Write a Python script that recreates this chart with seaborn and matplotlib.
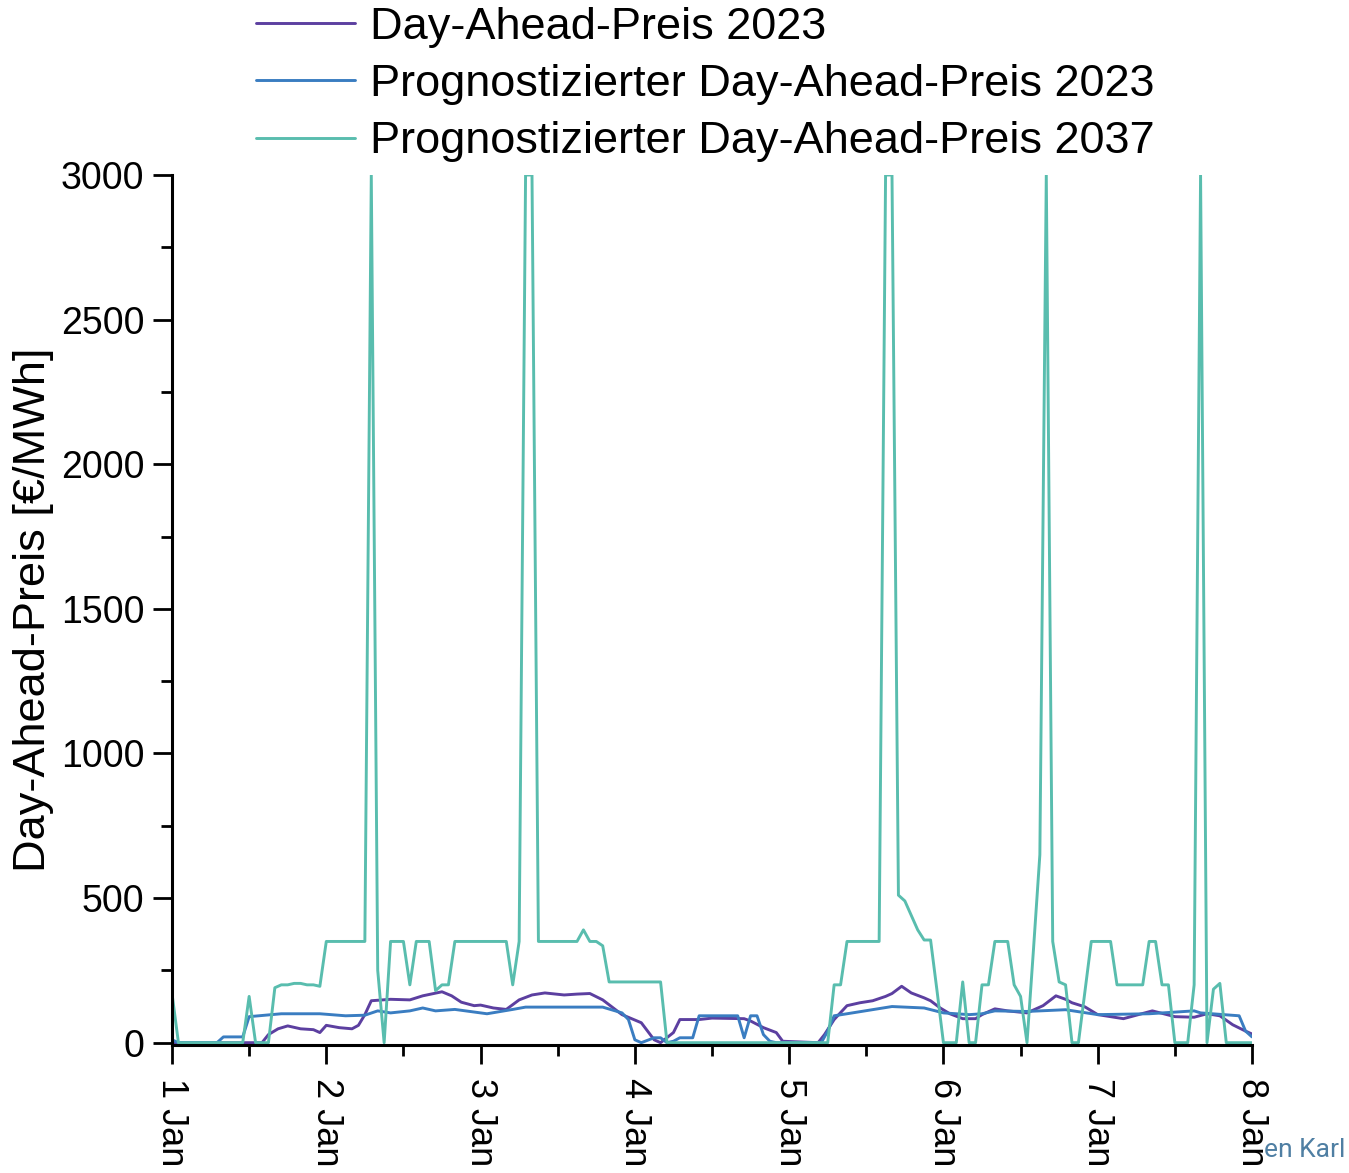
import numpy as np
import pandas as pd
import seaborn as sns
import matplotlib.pyplot as plt
import matplotlib.dates as mdates
from matplotlib.ticker import MultipleLocator


# Day-ahead price 2023 (hours since 1 Jan 00:00, EUR/MWh)
ist_2023_hours = [0, 14, 15, 16.5, 18, 20, 22, 23, 24, 26, 28, 29, 30, 31, 34, 37, 39, 42, 43.5, 45, 47, 48,
                  50, 52, 54, 56, 58, 61, 63, 65, 67, 70, 73, 75, 76, 78, 79, 82, 84, 89, 90, 92, 94, 95,
                  100.5, 101.5, 103, 105, 107, 109, 111, 112, 113.5, 115, 117, 118, 119.5, 121, 123, 125,
                  126, 128, 130, 133, 135.5, 137.5, 139, 140, 142, 144, 148, 150, 152.5, 156, 159, 161,
                  163, 165, 167, 168]
ist_2023_price = [0, 0, 28, 48, 58, 48, 45, 35, 60, 52, 48, 60, 97, 145, 150, 148, 162, 176, 162, 140, 128, 130,
                  120, 115, 148, 165, 172, 165, 168, 170, 148, 97, 69, 10, 0, 35, 80, 80, 85, 83, 75, 52, 35, 5,
                  0, 28, 80, 128, 138, 145, 160, 170, 195, 172, 155, 145, 120, 100, 83, 83,
                  97, 117, 110, 103, 128, 162, 150, 138, 124, 97, 83, 95, 110, 90, 88, 100,
                  93, 62, 40, 30]

# Forecast 2023
prog_2023_hours = [0, 1, 7, 8, 11, 12, 17, 23, 27, 30, 32, 34, 37, 39, 41, 44, 49, 53, 55, 67, 70, 71, 72, 73,
                   75, 76, 77, 78, 79, 81, 82, 88, 89, 90, 91, 92, 93, 94, 101, 102, 103, 105, 112, 117,
                   120, 124, 126, 128, 133, 139, 144, 152, 159, 160, 166, 167, 168]
prog_2023_price = [10, 0, 0, 20, 20, 90, 100, 100, 93, 95, 110, 103, 110, 120, 110, 115, 100, 115, 123, 123,
                   103, 80, 10, 0, 17, 17, 0, 5, 17, 17, 93, 93, 17, 93, 93, 28, 5, 0, 0, 40, 93, 100, 125,
                   120, 103, 97, 100, 110, 108, 114, 97, 100, 110, 103, 93, 40, 20]

# Forecast 2037, hourly
prog_2037_price = [
    170, 0, 0, 0, 0, 0, 0, 0, 0, 0, 0, 0, 160, 0, 0, 0, 190, 200, 200, 205, 205, 200, 200, 195,
    350, 350, 350, 350, 350, 350, 350, 3000, 250, 0, 350, 350, 350, 200, 350, 350, 350, 180, 200, 200,
    350, 350, 350, 350,
    350, 350, 350, 350, 350, 200, 350, 3000, 3000, 350, 350, 350, 350, 350, 350, 350, 390, 350, 350, 335,
    210, 210, 210, 210,
    210, 210, 210, 210, 210, 0, 0, 0, 0, 0, 0, 0, 0, 0, 0, 0, 0, 0, 0, 0, 0, 0, 0, 0,
    0, 0, 0, 0, 0, 0, 0, 200, 200, 350, 350, 350, 350, 350, 350, 3000, 3000, 510, 490, 440, 390, 355,
    355, 180,
    0, 0, 0, 210, 0, 0, 200, 200, 350, 350, 350, 200, 160, 0, 320, 650, 3000, 350, 210, 200, 0, 0, 175, 350,
    350, 350, 350, 200, 200, 200, 200, 200, 350, 350, 200, 200, 0, 0, 0, 200, 3000, 0, 185, 205, 0, 0, 0, 0,
    0]
prog_2037_hours = list(range(len(prog_2037_price)))

series_names = ["Day-Ahead-Preis 2023",
                "Prognostizierter Day-Ahead-Preis 2023",
                "Prognostizierter Day-Ahead-Preis 2037"]
series_colors = ["#5c3fa0", "#3a7dc1", "#59bdae"]

start = pd.Timestamp("2023-01-01")


def make_frame(hours, prices, name):
    return pd.DataFrame({"time": start + pd.to_timedelta(hours, unit="h"),
                         "price": prices,
                         "series": name})


df = pd.concat([make_frame(ist_2023_hours, ist_2023_price, series_names[0]),
                make_frame(prog_2023_hours, prog_2023_price, series_names[1]),
                make_frame(prog_2037_hours, prog_2037_price, series_names[2])], ignore_index=True)

sns.set_style("ticks")
plt.rcParams['font.family'] = ['Liberation Sans', 'DejaVu Sans']
plt.rcParams['text.color'] = 'black'
plt.rcParams['axes.labelcolor'] = 'black'
plt.rcParams['xtick.color'] = 'black'
plt.rcParams['ytick.color'] = 'black'

fig = plt.figure(figsize=(13.49, 11.73), dpi=100)
ax = fig.add_axes([172 / 1349, 1 - 1045 / 1173, 1080 / 1349, 870 / 1173])

sns.lineplot(data=df, x="time", y="price", hue="series", hue_order=series_names,
             palette=dict(zip(series_names, series_colors)), linewidth=2.1, ax=ax)

handles, labels = ax.get_legend_handles_labels()
ax.get_legend().remove()
fig.legend(handles, labels, loc="upper left", bbox_to_anchor=(238 / 1349, 1.0095),
           frameon=False, fontsize=32.5, handlelength=2.2, handletextpad=0.33,
           labelspacing=0.36, borderaxespad=0)

ax.set_xlim(start, start + pd.Timedelta(days=7))
ax.set_ylim(-8, 3000)
ax.xaxis.set_major_locator(mdates.DayLocator())
ax.xaxis.set_minor_locator(mdates.HourLocator(byhour=[12]))
ax.xaxis.set_major_formatter(mdates.DateFormatter("%-d %b"))
ax.yaxis.set_major_locator(MultipleLocator(500))
ax.yaxis.set_minor_locator(MultipleLocator(250))

ax.set_xlabel("")
ax.set_ylabel("Day-Ahead-Preis [€/MWh]", fontsize=32.5, labelpad=5)
ax.tick_params(axis="both", which="major", width=2, length=14, color="black")
ax.tick_params(axis="y", which="major", labelsize=27, pad=6)
ax.tick_params(axis="x", which="major", labelsize=26, pad=10)
ax.tick_params(axis="both", which="minor", width=2, length=8, color="black")
plt.setp(ax.get_xticklabels(), rotation=-90, ha="center", va="top")

sns.despine(ax=ax)
for side in ["left", "bottom"]:
    ax.spines[side].set_linewidth(2.2)
    ax.spines[side].set_color("black")

fig.text(1345 / 1349, 1 - 1162 / 1173, "en Karl", ha="right", va="bottom",
         fontsize=19, color="#4f7fa3", family="Roboto")

fig.savefig("out.png", dpi=100)
